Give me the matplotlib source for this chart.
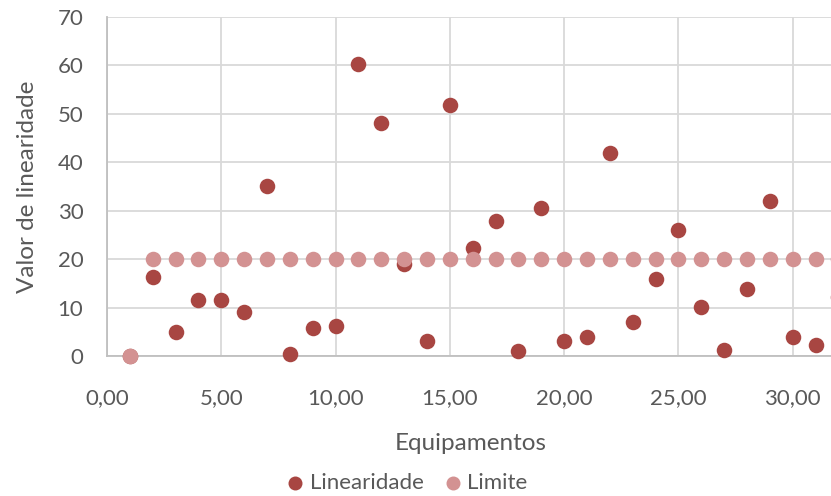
import matplotlib.pyplot as plt

plt.rcParams['font.family'] = ['Lato', 'DejaVu Sans']

# equipamentos 1..32
equipamentos = list(range(1, 33))
linearidade = [0, 16.4, 5.0, 11.5, 11.6, 9.0, 35.2, 0.5, 5.8, 6.1,
               60.2, 48.1, 18.9, 3.1, 51.8, 22.2, 27.8, 1.0, 30.6, 3.2,
               3.9, 42.0, 7.0, 15.8, 26.1, 10.1, 1.3, 13.8, 32.1, 3.9,
               2.2, 12.2]
limite = [0] + [20] * 31

cor_lin = '#A84642'
cor_lim = '#D39292'
cinza = '#595959'

fig = plt.figure(figsize=(8.31, 4.96), dpi=100)
ax = fig.add_axes([107 / 831, 1 - 356 / 496, 728 / 831, 339 / 496])

ax.scatter(equipamentos, linearidade, s=125, color=cor_lin, label='Linearidade',
           zorder=3, linewidths=0, clip_on=False)
ax.scatter(equipamentos, limite, s=125, color=cor_lim, label='Limite',
           zorder=4, linewidths=0, clip_on=False)

ax.set_xlim(0, 31.85)
ax.set_ylim(0, 70)
ax.set_xticks(range(0, 31, 5))
ax.set_xticklabels([f'{v},00' for v in range(0, 31, 5)])
ax.set_yticks(range(0, 71, 10))

ax.grid(True, color='#D9D9D9', linewidth=1.3)
ax.set_axisbelow(True)
for s in ['top', 'right']:
    ax.spines[s].set_visible(False)
for s in ['left', 'bottom']:
    ax.spines[s].set_color('#BFBFBF')
    ax.spines[s].set_linewidth(1.3)

ax.tick_params(axis='both', length=0, labelsize=16, colors=cinza)
ax.tick_params(axis='y', pad=17)
ax.tick_params(axis='x', pad=23)

ax.set_xlabel('Equipamentos', fontsize=17.5, color=cinza, labelpad=18)
ax.set_ylabel('Valor de linearidade', fontsize=17.5, color=cinza, labelpad=14)

fig.legend(loc='center', bbox_to_anchor=(407 / 831, 1 - 483 / 496), ncol=2,
           frameon=False, fontsize=16, labelcolor=cinza, handlelength=0.8,
           handletextpad=0.25, columnspacing=0.9, markerscale=0.9, borderpad=0)

plt.savefig('out.png')
